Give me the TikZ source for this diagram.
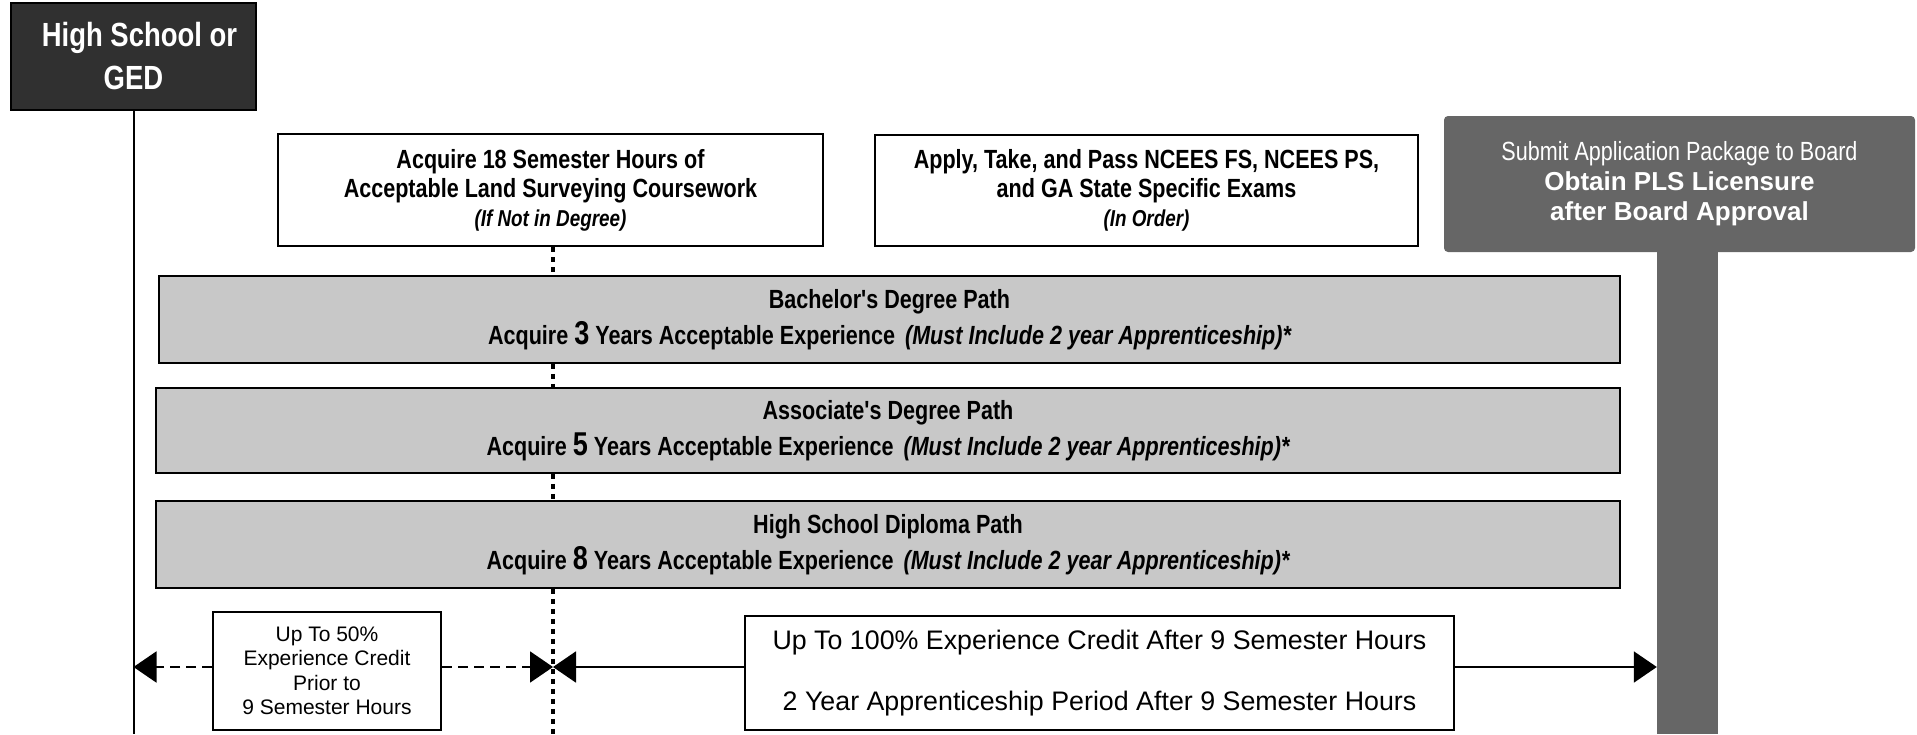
\documentclass[tikz,border=0pt]{standalone}
\usepackage{fontspec}
\setmainfont{Liberation Sans}
\newfontfamily\narrowf[FakeStretch=0.82]{Liberation Sans}
\usetikzlibrary{arrows.meta}
\definecolor{hsdark}{RGB}{48,48,48}
\definecolor{subgray}{RGB}{102,102,102}
\definecolor{pathgray}{RGB}{200,200,200}
\begin{document}
\begin{tikzpicture}[x=1pt,y=-1pt,
  box/.style={draw=black, line width=2pt, inner sep=0pt, align=center},
  whitebox/.style={box, fill=white},
  graybox/.style={box, fill=pathgray, line width=1.8pt},
  hsbox/.style={box, fill=hsdark, text=white},
  subbox/.style={fill=subgray, rounded corners=4pt, text=white, inner sep=0pt, align=center},
  stemst/.style={fill=subgray, inner sep=0pt},
  conn/.style={line width=2pt},
  dots/.style={line width=4.5pt, dash pattern=on 5pt off 5pt},
  arr/.style={line width=2pt, -{Triangle[length=23pt,width=31pt]}},
  dasharr/.style={arr, dash pattern=on 10pt off 6pt}]
\useasboundingbox (0,0) rectangle (1917,734);

% top nodes
\node[hsbox, minimum width=245pt, minimum height=107pt,
      font=\narrowf\bfseries\fontsize{33.5}{43}\selectfont] (hs) at (133.5,56) {\hspace*{12pt}High School or\\GED};

\node[whitebox, minimum width=545pt, minimum height=112pt,
      font=\narrowf\bfseries\fontsize{26.3}{29}\selectfont] (cw) at (550.5,190)
  {Acquire 18 Semester Hours of\\Acceptable Land Surveying Coursework\\{\itshape\fontsize{23}{29}\selectfont (If Not in Degree)}};

\node[whitebox, minimum width=543pt, minimum height=111pt,
      font=\narrowf\bfseries\fontsize{26.3}{29}\selectfont] (ex) at (1146.5,190)
  {Apply, Take, and Pass NCEES FS, NCEES PS,\\and GA State Specific Exams\\{\itshape\fontsize{23}{29}\selectfont (In Order)}};

\node[stemst, minimum width=61pt, minimum height=486pt, anchor=north] (stem) at (1687.5,248) {};
\node[subbox, minimum width=471pt, minimum height=136pt,
      font=\fontsize{26}{30}\selectfont] (sub) at (1679.5,184)
  {{\narrowf\fontsize{26.3}{30}\selectfont Submit Application Package to Board}\\{\bfseries Obtain PLS Licensure}\\{\bfseries after Board Approval}};

% path boxes
\node[graybox, minimum width=1461pt, minimum height=87pt,
      font=\narrowf\bfseries\fontsize{26.3}{36}\selectfont] (bach) at (889.5,319.5)
  {Bachelor's Degree Path\\Acquire {\fontsize{33}{36}\selectfont 3} Years Acceptable Experience\hspace{10pt}{\itshape (Must Include 2 year Apprenticeship)*}};

\node[graybox, minimum width=1464pt, minimum height=85pt,
      font=\narrowf\bfseries\fontsize{26.3}{36}\selectfont] (asso) at (888,430.5)
  {Associate's Degree Path\\Acquire {\fontsize{33}{36}\selectfont 5} Years Acceptable Experience\hspace{10pt}{\itshape (Must Include 2 year Apprenticeship)*}};

\node[graybox, minimum width=1464pt, minimum height=87pt,
      font=\narrowf\bfseries\fontsize{26.3}{36}\selectfont] (hsd) at (888,544.5)
  {High School Diploma Path\\Acquire {\fontsize{33}{36}\selectfont 8} Years Acceptable Experience\hspace{10pt}{\itshape (Must Include 2 year Apprenticeship)*}};

% bottom boxes
\node[whitebox, minimum width=228pt, minimum height=118pt,
      font=\fontsize{21}{24.5}\selectfont] (c50) at (327,671)
  {Up To 50\%\\Experience Credit\\Prior to\\9 Semester Hours};

\node[whitebox, minimum width=709pt, minimum height=114pt,
      font=\fontsize{26.8}{61}\selectfont] (c100) at (1099.5,673)
  {Up To 100\% Experience Credit After 9 Semester Hours\\2 Year Apprenticeship Period After 9 Semester Hours};

% connectors
\coordinate (dx) at (553,0);
\coordinate (ay) at (0,667);
\coordinate (bot) at (0,734);
\draw[conn] (hs.south) -- (hs.south |- bot);
\draw[dots] (cw.south -| dx) -- (bach.north -| dx);
\draw[dots] (bach.south -| dx) -- (asso.north -| dx);
\draw[dots] (asso.south -| dx) -- (hsd.north -| dx);
\draw[dots] (hsd.south -| dx) -- (dx |- bot);
\draw[dasharr] (c50.west |- ay) -- (hs.south |- ay);
\draw[dasharr] (c50.east |- ay) -- (dx |- ay);
\draw[arr] (c100.west |- ay) -- (dx |- ay);
\draw[arr] (c100.east |- ay) -- (stem.west |- ay);
\end{tikzpicture}
\end{document}
